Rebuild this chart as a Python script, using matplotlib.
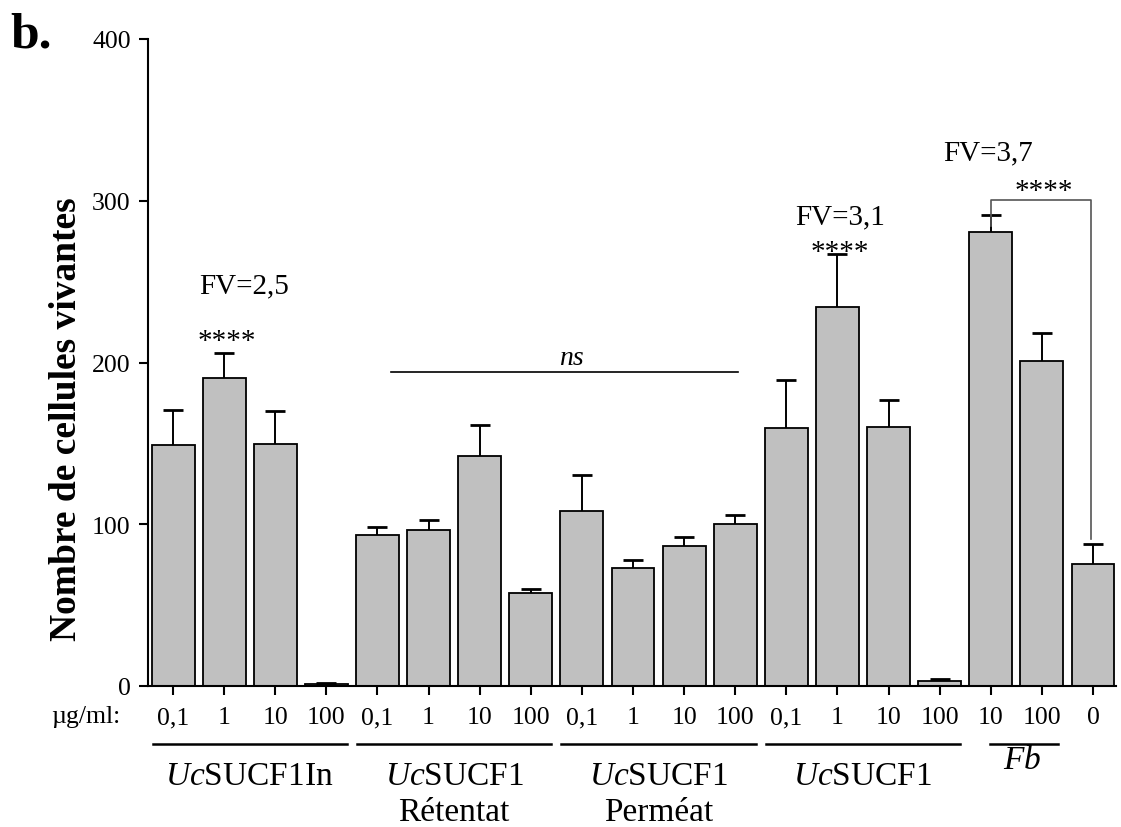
import matplotlib
matplotlib.use('Agg')
import matplotlib.pyplot as plt
import numpy as np

plt.rcParams['font.family'] = ['Liberation Serif', 'DejaVu Serif']
plt.rcParams['mathtext.fontset'] = 'custom'
plt.rcParams['mathtext.rm'] = 'Liberation Serif'
plt.rcParams['mathtext.it'] = 'Liberation Serif:italic'
plt.rcParams['mathtext.bf'] = 'Liberation Serif:bold'

# ---- data ----
concentrations = ['0,1', '1', '10', '100', '0,1', '1', '10', '100', '0,1', '1', '10', '100',
                  '0,1', '1', '10', '100', '10', '100', '0']
means = [148.7, 190.5, 149.5, 1.0,
         93.2, 96.7, 142.0, 57.8,
         108.5, 72.8, 86.6, 100.4,
         159.2, 234.4, 160.0, 3.1,
         280.4, 200.8, 75.7]
upper = [170.7, 205.9, 169.9, 1.7,
         98.3, 102.7, 161.4, 59.8,
         130.7, 78.2, 92.2, 105.8,
         189.2, 266.8, 176.9, 4.6,
         291.2, 218.1, 87.8]
sem = [u - m for u, m in zip(upper, means)]

group_names = [r'$\it{Uc}$SUCF1In', r'$\it{Uc}$SUCF1', r'$\it{Uc}$SUCF1', r'$\it{Uc}$SUCF1', r'$\it{Fb}$']
group_sub = ['', 'Rétentat', 'Perméat', '', '']
group_first = [0, 4, 8, 12, 16]
group_last = [3, 7, 11, 15, 17]

yticks = [0, 100, 200, 300, 400]

# ---- figure ----
W, H = 1121, 828
fig = plt.figure(figsize=(W / 100, H / 100), dpi=100)
ax = fig.add_axes([148 / W, 1 - 687 / H, (1116 - 148) / W, (687 - 40) / H])

x = np.arange(len(means))
ax.bar(x, means, width=0.84, color='#c0c0c0', edgecolor='black', linewidth=1.3, zorder=2)
eb = ax.errorbar(x, means, yerr=[np.zeros(len(sem)), sem], fmt='none', ecolor='black',
                 elinewidth=1.4, capsize=7.5, capthick=2.0, zorder=3)
# hide the lower caps (only upward error bars)
caps = eb[1]
if len(caps) >= 2:
    caps[0].set_visible(False)

ax.set_xlim(-0.49, 18.45)
ax.set_ylim(0, 400)
for s in ['top', 'right']:
    ax.spines[s].set_visible(False)
for s in ['left', 'bottom']:
    ax.spines[s].set_linewidth(1.5)
ax.set_yticks(yticks)
ax.set_xticks(x)
ax.set_xticklabels(concentrations)
ax.tick_params(direction='out', length=6.5, width=1.5, labelsize=18.5)
ax.tick_params(axis='x', pad=8)
ax.tick_params(axis='y', pad=6)

# ---- annotations ----
fs_ann = 21
ax.text(1.39, 243.3, 'FV=2,5', ha='center', va='baseline', fontsize=fs_ann)
ax.text(1.05, 209, '****', ha='center', va='baseline', fontsize=fs_ann)
ax.text(13.05, 286, 'FV=3,1', ha='center', va='baseline', fontsize=fs_ann)
ax.text(13.05, 264, '****', ha='center', va='baseline', fontsize=fs_ann)
ax.text(15.95, 325.6, 'FV=3,7', ha='center', va='baseline', fontsize=fs_ann)
ax.text(17.03, 301.5, '****', ha='center', va='baseline', fontsize=fs_ann)
ax.plot([16.0, 16.0, 17.97, 17.97], [284.5, 300.6, 300.6, 90.7], color='#555555', lw=1.2, zorder=4)

ax.plot([4.27, 11.06], [194.4, 194.4], color='black', lw=1.2)
ax.text(7.8, 199, 'ns', ha='center', va='baseline', fontsize=20, style='italic')

# group lines and labels below axis
line_y = -36.1
fs_grp = 24
for gf, gl, name, sub in zip(group_first, group_last, group_names, group_sub):
    cx = (gf + gl) / 2
    if name == r'$\it{Fb}$':
        ax.plot([gf - 0.01, gl + 0.31], [line_y, line_y], color='black', lw=1.8, clip_on=False)
        ax.text(16.61, -50.5, name, ha='center', va='baseline', fontsize=fs_grp, clip_on=False)
    else:
        ax.plot([gf - 0.40, gl + 0.40], [line_y, line_y], color='black', lw=1.8, clip_on=False)
        ax.text(cx, -60.5, name, ha='center', va='baseline', fontsize=fs_grp, clip_on=False)
    if sub:
        ax.text(cx, -83.0, sub, ha='center', va='baseline', fontsize=fs_grp, clip_on=False)

fig.text(120 / W, 1 - 723 / H, 'µg/ml:', ha='right', va='baseline', fontsize=18.5)
fig.text(67 / W, 1 - 419 / H, 'Nombre de cellules vivantes', rotation=90, ha='center',
         va='center', fontsize=27, fontweight='bold')
fig.text(10 / W, 1 - 48 / H, 'b.', ha='left', va='baseline', fontsize=37, fontweight='bold')

fig.savefig('out.png', dpi=100)
